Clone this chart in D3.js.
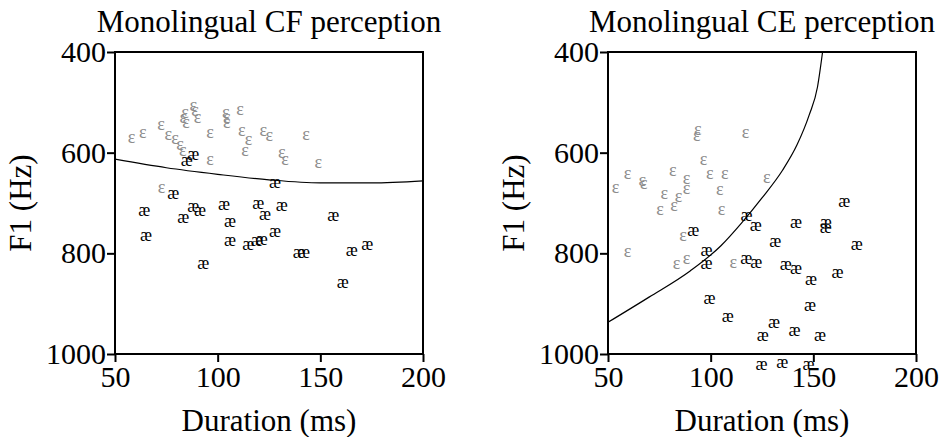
<!DOCTYPE html>
<html>
<head>
<meta charset="utf-8">
<script src="https://cdn.jsdelivr.net/npm/d3@7"></script>
<style>
    body { margin: 0; background: white; }
    text { font-family: "Liberation Serif", "Times New Roman", serif; }
</style>
</head>
<body>
<svg id="chart"></svg>
<script>
const xTicks = [50, 100, 150, 200]
const yTicks = [400, 600, 800, 1000]

// CF panel: [duration ms, F1 Hz]
const cfEpsilon = [
    [58, 571], [63.5, 561], [72.4, 547], [76, 565], [79.2, 573], [81.7, 585], [83, 597],
    [83.3, 532], [84.6, 542], [84.1, 523], [88.1, 509], [89, 519], [90.2, 532],
    [96.3, 561], [96.3, 615], [103.9, 522], [104.4, 532], [104.4, 542], [110.9, 517],
    [111.7, 558], [115, 575], [113.3, 598], [122.2, 558], [125.1, 567], [143, 565],
    [131.2, 601], [132.8, 615], [149, 621], [72.7, 671]
]
const cfAe = [
    [84.9, 618], [88.1, 605], [78.4, 684], [64.3, 717], [83.3, 730], [88.1, 709],
    [91.4, 717], [103.1, 704], [106, 738], [65.1, 767], [106, 777], [114.9, 784],
    [119, 777], [93, 823], [127.9, 661], [119.8, 703], [123, 724], [131.2, 707],
    [156.3, 727], [121.5, 774], [127.9, 759], [139.5, 800], [142, 801], [165.3, 797],
    [172.9, 784], [160.9, 860]
]
const cfBoundary = [[50, 613], [75, 630], [100, 643], [125, 654], [150, 660], [175, 660], [200, 656]]

// CE panel
const ceEpsilon = [
    [53.7, 671], [59.5, 644], [66.7, 658], [67.4, 664], [93.7, 555], [93.2, 568],
    [96.5, 616], [81.5, 637], [88.3, 653], [99.6, 644], [106.9, 644], [127.3, 651],
    [117, 561], [77.4, 684], [84.3, 690], [88.3, 674], [82.1, 707], [75.3, 714],
    [104.4, 675], [105.3, 714], [59.5, 799], [86.6, 766], [88.3, 813], [83.4, 823],
    [111, 820]
]
const ceAe = [
    [91.5, 757], [98, 797], [98, 823], [117.5, 726], [122, 747], [141.6, 740],
    [156.1, 740], [156.1, 750], [165.1, 699], [171.2, 784], [131.4, 779], [117.3, 812],
    [122.2, 821], [136.6, 825], [141.6, 832], [148.9, 853], [161.8, 841], [99.4, 891],
    [108.3, 927], [130.8, 939], [125.4, 966], [140.8, 955], [148.4, 906], [153.2, 966],
    [124.8, 1022], [134.9, 1019], [147.6, 1022]
]
const ceBoundary = [[50, 937], [70, 887], [90, 835], [105, 785], [115, 740], [125, 690],
    [135, 635], [142, 585], [148, 525], [152, 470], [154.5, 400]]

const panels = [
    { title: 'Monolingual CF perception', left: 115, eps: cfEpsilon, ae: cfAe, boundary: cfBoundary },
    { title: 'Monolingual CE perception', left: 608, eps: ceEpsilon, ae: ceAe, boundary: ceBoundary }
]

const width = 945, height = 437
const plotW = 308, plotTop = 52, plotH = 302
const epsColor = '#8c8c8c'
const serif = '"Liberation Serif", "Times New Roman", serif'

let $svg = d3.select('#chart')
    .attr('width', width)
    .attr('height', height)

panels.forEach((p, i) => {
    let scaleX = d3.scaleLinear().domain([50, 200]).range([p.left, p.left + plotW])
    let scaleY = d3.scaleLinear().domain([400, 1000]).range([plotTop, plotTop + plotH])

    $svg.append('clipPath').attr('id', 'clip' + i)
        .append('rect')
        .attr('x', p.left).attr('y', plotTop)
        .attr('width', plotW).attr('height', plotH)

    // boundary curve
    let lineFunction = d3.line()
        .x(d => scaleX(d[0]))
        .y(d => scaleY(d[1]))
        .curve(d3.curveMonotoneX)
    $svg.append('path')
        .attr('d', lineFunction(p.boundary))
        .attr('fill', 'none')
        .attr('stroke', 'black')
        .attr('stroke-width', 1.2)
        .attr('clip-path', 'url(#clip' + i + ')')

    // tokens
    $svg.append('g').selectAll('text').data(p.eps).join('text')
        .attr('x', d => scaleX(d[0]))
        .attr('y', d => scaleY(d[1]))
        .attr('dy', '0.25em')
        .attr('text-anchor', 'middle')
        .attr('font-size', 18)
        .attr('fill', epsColor)
        .text('ε')
    $svg.append('g').selectAll('text').data(p.ae).join('text')
        .attr('x', d => scaleX(d[0]))
        .attr('y', d => scaleY(d[1]))
        .attr('dy', '0.25em')
        .attr('text-anchor', 'middle')
        .attr('font-size', 18)
        .attr('fill', 'black')
        .text('æ')

    // frame
    $svg.append('rect')
        .attr('x', p.left).attr('y', plotTop)
        .attr('width', plotW).attr('height', plotH)
        .attr('fill', 'none')
        .attr('stroke', 'black')
        .attr('stroke-width', 2)

    let xAxis = $svg.append('g')
        .attr('transform', 'translate(0,' + (plotTop + plotH) + ')')
        .call(d3.axisBottom(scaleX).tickValues(xTicks).tickFormat(d3.format('d'))
            .tickSize(8).tickSizeOuter(0).tickPadding(4))
    let yAxis = $svg.append('g')
        .attr('transform', 'translate(' + p.left + ',0)')
        .call(d3.axisLeft(scaleY).tickValues(yTicks).tickFormat(d3.format('d'))
            .tickSize(8).tickSizeOuter(0).tickPadding(1))
    ;[xAxis, yAxis].forEach(a => {
        a.attr('font-family', serif)
        a.select('.domain').remove()
        a.selectAll('line').attr('stroke-width', 2)
        a.selectAll('text')
            .attr('font-size', 30)
            .attr('fill', 'black')
    })

    $svg.append('text')
        .attr('x', p.left + plotW / 2)
        .attr('y', 32)
        .attr('text-anchor', 'middle')
        .attr('font-size', 31)
        .text(p.title)

    $svg.append('text')
        .attr('x', p.left + plotW / 2)
        .attr('y', 431)
        .attr('text-anchor', 'middle')
        .attr('font-size', 31)
        .text('Duration (ms)')

    $svg.append('text')
        .attr('transform', 'translate(' + (p.left - 84) + ',' + (plotTop + plotH / 2) + ') rotate(-90)')
        .attr('text-anchor', 'middle')
        .attr('font-size', 31)
        .text('F1 (Hz)')
})
</script>
</body>
</html>
